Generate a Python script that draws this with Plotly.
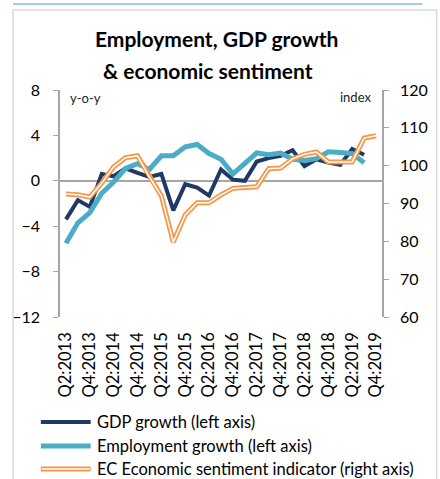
import plotly.graph_objects as go

quarters = ["Q2:2013", "Q3:2013", "Q4:2013", "Q1:2014", "Q2:2014", "Q3:2014", "Q4:2014",
            "Q1:2015", "Q2:2015", "Q3:2015", "Q4:2015", "Q1:2016", "Q2:2016", "Q3:2016",
            "Q4:2016", "Q1:2017", "Q2:2017", "Q3:2017", "Q4:2017", "Q1:2018", "Q2:2018",
            "Q3:2018", "Q4:2018", "Q1:2019", "Q2:2019", "Q3:2019", "Q4:2019"]
tick_labels = ["Q2:2013", "Q4:2013", "Q2:2014", "Q4:2014", "Q2:2015", "Q4:2015", "Q2:2016",
               "Q4:2016", "Q2:2017", "Q4:2017", "Q2:2018", "Q4:2018", "Q2:2019", "Q4:2019"]
gdp_growth = [-3.4, -1.7, -2.3, 0.6, 0.4, 1.1, 0.7, 0.35, 0.6, -2.6, -0.3, -0.6, -1.3,
              1.0, 0.1, 0.0, 1.7, 2.0, 2.2, 2.7, 1.3, 1.9, 1.6, 1.4, 2.8, 2.3]
employment_growth = [-5.5, -3.7, -2.8, -1.1, -0.1, 1.1, 1.5, 1.0, 2.2, 2.2, 3.0, 3.2, 2.4,
                     1.9, 0.6, 1.6, 2.45, 2.3, 2.45, 1.9, 1.8, 1.95, 2.55, 2.5, 2.4, 1.6]
esi = [92.5, 92.3, 91.7, 95.4, 99.7, 102.1, 102.6, 97.0, 92.0, 79.8, 87.0, 90.2, 90.2,
       92.3, 94.0, 94.2, 94.4, 99.2, 99.4, 101.8, 103.0, 103.6, 101.0, 101.0, 101.0,
       107.3, 107.9]

NAVY = "#1F3864"
TEAL = "#4BACC6"
ORANGE = "#F79646"
GRAY = "#A6A6A6"
FONT = "Lato"

W, H = 440, 479
L, R, T, B = 57, 47, 90, 162
PW, PH = W - L - R, H - T - B


def px(x):
    return (x - L) / PW


def py(y):
    return (H - B - y) / PH


fig = go.Figure()
fig.add_trace(go.Scatter(x=quarters[:len(gdp_growth)], y=gdp_growth, mode="lines",
                         line=dict(color=NAVY, width=4), showlegend=False))
fig.add_trace(go.Scatter(x=quarters[:len(employment_growth)], y=employment_growth, mode="lines",
                         line=dict(color=TEAL, width=5), showlegend=False))
fig.add_trace(go.Scatter(x=quarters, y=esi, mode="lines", yaxis="y2",
                         line=dict(color=ORANGE, width=5), showlegend=False))
fig.add_trace(go.Scatter(x=quarters, y=esi, mode="lines", yaxis="y2",
                         line=dict(color="white", width=1.5), showlegend=False))

shapes = [
    dict(type="line", xref="paper", yref="paper", x0=px(8), x1=px(435), y0=py(4), y1=py(4),
         line=dict(color="#9DD0DE", width=2)),
    dict(type="rect", xref="paper", yref="paper", x0=px(8), x1=px(450), y0=py(490), y1=py(10),
         line=dict(color="#D9D9D9", width=1.5)),
]
legend_items = [("GDP growth (left axis)", NAVY, 422),
                ("Employment growth (left axis)", TEAL, 446),
                ("EC Economic sentiment indicator (right axis)", ORANGE, 469)]
annotations = [
    dict(text="<b>Employment, GDP growth</b>", x=px(220), y=py(38), xref="paper", yref="paper",
         showarrow=False, xanchor="center", yanchor="middle", font=dict(size=21, color="black", family=FONT)),
    dict(text="<b>& economic sentiment</b>", x=px(211), y=py(70), xref="paper", yref="paper",
         showarrow=False, xanchor="center", yanchor="middle", font=dict(size=21, color="black", family=FONT)),
    dict(text="y-o-y", x=px(65), y=py(98), xref="paper", yref="paper", showarrow=False,
         xanchor="left", yanchor="middle", font=dict(size=13, color="#222", family=FONT)),
    dict(text="index", x=px(384), y=py(97), xref="paper", yref="paper", showarrow=False,
         xanchor="right", yanchor="middle", font=dict(size=13, color="#222", family=FONT)),
]
for i, (name, col, yy) in enumerate(legend_items):
    if i < 2:
        shapes.append(dict(type="line", xref="paper", yref="paper", x0=px(37), x1=px(89),
                           y0=py(yy), y1=py(yy), line=dict(color=col, width=4 if i == 0 else 5)))
    else:
        shapes.append(dict(type="line", xref="paper", yref="paper", x0=px(37), x1=px(89),
                           y0=py(yy), y1=py(yy), line=dict(color=col, width=5)))
        shapes.append(dict(type="line", xref="paper", yref="paper", x0=px(38), x1=px(88),
                           y0=py(yy), y1=py(yy), line=dict(color="white", width=1.5)))
    annotations.append(dict(text=name, x=px(93), y=py(yy), xref="paper", yref="paper",
                            showarrow=False, xanchor="left", yanchor="middle",
                            font=dict(size=16.5, color="black", family=FONT)))

fig.update_layout(
    width=W, height=H,
    margin=dict(l=L, r=R, t=T, b=B, pad=0),
    paper_bgcolor="white", plot_bgcolor="white",
    font=dict(family=FONT, size=15, color="black"),
    shapes=shapes, annotations=annotations,
    xaxis=dict(type="category", categoryorder="array", categoryarray=quarters,
               range=[-0.5, len(quarters) - 0.5], tickmode="array", tickvals=tick_labels,
               ticktext=tick_labels, tickangle=-90, showgrid=False, showline=False, ticks="",
               zeroline=False, tickfont=dict(size=16.5, family=FONT), ticklabelstandoff=11),
    yaxis=dict(range=[-12, 8], dtick=4, tick0=-12, showgrid=False, showline=True,
               linecolor=GRAY, linewidth=1.5, ticks="outside", ticklen=5, tickcolor=GRAY,
               zeroline=True, zerolinecolor=GRAY, zerolinewidth=1.5,
               tickfont=dict(size=16, family=FONT), ticklabelstandoff=10),
    yaxis2=dict(range=[60, 120], dtick=10, tick0=60, overlaying="y", side="right",
                showgrid=False, showline=True, linecolor=GRAY, linewidth=1.5,
                ticks="outside", ticklen=5, tickcolor=GRAY, zeroline=False,
                tickfont=dict(size=16, family=FONT), ticklabelstandoff=8),
)

fig.write_html("out.html")
